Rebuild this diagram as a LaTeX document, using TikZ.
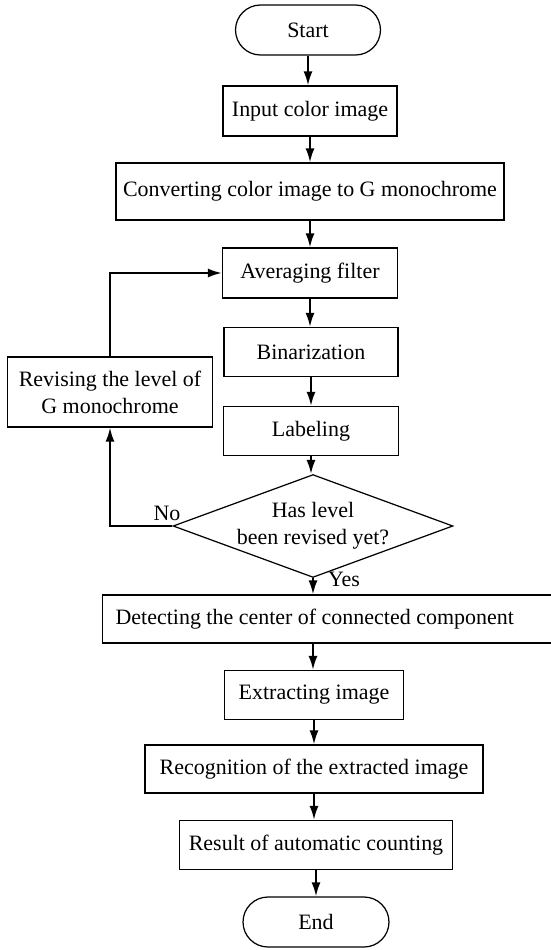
\documentclass[tikz,border=0pt]{standalone}
\usepackage{fontspec}
\setmainfont{Liberation Serif}
\usepackage{tikz}
\usetikzlibrary{arrows.meta,shapes.geometric,shapes.misc}

\tikzset{
  box/.style={draw,line width=0.7pt,inner sep=0pt,align=center},
  term/.style={draw,rounded rectangle,line width=0.7pt,inner sep=0pt},
  decide/.style={draw,diamond,aspect=2.72,line width=0.7pt,inner sep=0pt,align=center},
  flow/.style={-{Latex[length=2.8mm,width=1.8mm]},line width=1.1pt},
}

\begin{document}
\begin{tikzpicture}[x=0.02cm,y=-0.02cm,font=\fontsize{12.5}{15.3}\selectfont]
\useasboundingbox (0,0) rectangle (551,950);

% main column
\node[term,minimum width=2.9cm,minimum height=1cm] (start) at (308,30) {Start};
\node[box,minimum width=3.48cm,minimum height=1cm] (input) at (310,111) {Input color image};
\node[box,minimum width=7.76cm,minimum height=1.14cm] (convert) at (310,191.5) {Converting color image to G monochrome};
\node[box,minimum width=3.5cm,minimum height=1cm] (avg) at (310,273) {Averaging filter};
\node[box,minimum width=3.48cm,minimum height=0.98cm] (binar) at (311,352) {Binarization};
\node[box,minimum width=3.5cm,minimum height=0.98cm] (label) at (311,431) {Labeling};
\node[decide,minimum width=5.12cm,minimum height=1.88cm] (ask) at (313,526) {Has level\\been revised yet?};

% side box of the loop
\node[box,minimum width=4.1cm,minimum height=1.4cm] (revise) at (110,392) {Revising the level of\\G monochrome};

% lower part
\node[box,anchor=west,text width=8.7cm,align=flush left,inner xsep=0.26cm,minimum height=0.96cm] (detect) at (102,619) {Detecting the center of connected component};
\node[box,minimum width=3.58cm,minimum height=0.98cm] (extract) at (314,695) {Extracting image};
\node[box,minimum width=6.76cm,minimum height=0.96cm] (recog) at (314,769) {Recognition of the extracted image};
\node[box,minimum width=5.46cm,minimum height=0.98cm] (result) at (316,845) {Result of automatic counting};
\node[term,minimum width=2.92cm,minimum height=1cm] (end) at (316,922) {End};

% arrows down the column
\foreach \a/\b in {start/input,input/convert,convert/avg,avg/binar,binar/label,label/ask,extract/recog,recog/result,result/end} {
    \draw[flow] (\a.south) -- (\a.south |- \b.north);
}
\draw[flow] (ask.south) -- (ask.south |- detect.north);
\draw[flow] (ask.south |- detect.south) -- (ask.south |- extract.north);

% loop back
\draw[flow] (ask.west) -| (revise.south);
\draw[flow] (revise.north) |- (avg.west);

\node (no) at (167,513) {No};
\node (yes) at (344,579) {Yes};
\end{tikzpicture}
\end{document}
